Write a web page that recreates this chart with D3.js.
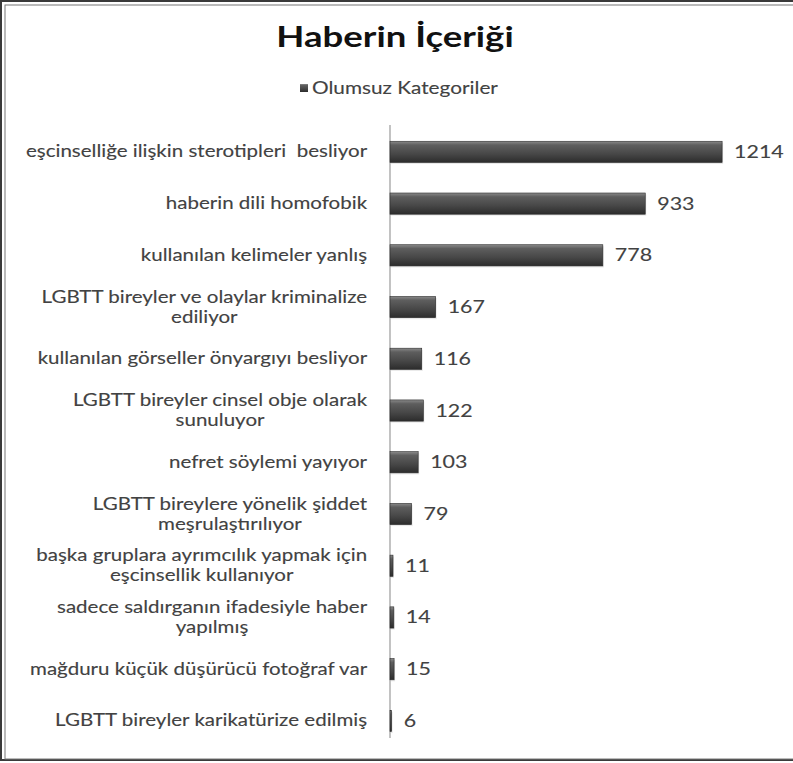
<!DOCTYPE html>
<html>
<head>
<meta charset="utf-8">
<script src="https://cdn.jsdelivr.net/npm/d3@7"></script>
<style>
  html, body { margin: 0; padding: 0; background: #fff; }
  svg { display: block; font-family: 'Lato', 'Open Sans', sans-serif; }
</style>
</head>
<body>
<div id="chart"></div>
<script>
const categories = [
  'eşcinselliğe ilişkin sterotipleri  besliyor',
  'haberin dili homofobik',
  'kullanılan kelimeler yanlış',
  'LGBTT bireyler ve olaylar kriminalize|ediliyor',
  'kullanılan görseller önyargıyı besliyor',
  'LGBTT bireyler cinsel obje olarak|sunuluyor',
  'nefret söylemi yayıyor',
  'LGBTT bireylere yönelik şiddet|meşrulaştırılıyor',
  'başka gruplara ayrımcılık yapmak için|eşcinsellik kullanıyor',
  'sadece saldırganın ifadesiyle haber|yapılmış',
  'mağduru küçük düşürücü fotoğraf var',
  'LGBTT bireyler karikatürize edilmiş'
];
const values = [1214, 933, 778, 167, 116, 122, 103, 79, 11, 14, 15, 6];
const seriesName = 'Olumsuz Kategoriler';
const title = 'Haberin İçeriği';

const W = 793, H = 763;
const stretch = 1.26; // the source picture is widened horizontally
const color = {
  text: '#424242',
  axis: '#9a9a9a',
  frame: '#3a3a3a'
};

const svg = d3.select('#chart')
  .append('svg')
  .attr('width', W)
  .attr('height', H);

// text that is stretched sideways like in the scan
const wideText = (parent, px, py, str, size, anchor) => parent.append('text')
  .attr('transform', `translate(${px}, ${py}) scale(${stretch}, 1)`)
  .attr('text-anchor', anchor || 'start')
  .attr('font-size', size)
  .attr('fill', color.text)
  .attr('stroke', color.text)
  .attr('stroke-width', 0.12)
  .attr('xml:space', 'preserve')
  .text(str);

// bar gradient, looks like the bevelled excel bars
const defs = svg.append('defs');
const grad = defs.append('linearGradient')
  .attr('id', 'barGrad')
  .attr('x1', 0).attr('y1', 0).attr('x2', 0).attr('y2', 1);
grad.append('stop').attr('offset', '0%').attr('stop-color', '#8a8a8a');
grad.append('stop').attr('offset', '18%').attr('stop-color', '#5e5e5e');
grad.append('stop').attr('offset', '60%').attr('stop-color', '#474747');
grad.append('stop').attr('offset', '100%').attr('stop-color', '#2c2c2c');

// frame (right edge is cut off in the original)
svg.append('rect')
  .attr('x', 1).attr('y', 1)
  .attr('width', W + 10).attr('height', H - 4)
  .attr('fill', 'none')
  .attr('stroke', color.frame)
  .attr('stroke-width', 2);
svg.append('rect')
  .attr('x', 5).attr('y', 5)
  .attr('width', W + 10).attr('height', H - 9)
  .attr('fill', 'none')
  .attr('stroke', '#777')
  .attr('stroke-width', 1);

// title + legend
wideText(svg, 395, 47, title, 29, 'middle')
  .attr('font-weight', 700)
  .attr('fill', '#111')
  .attr('stroke', 'none');

const legend = svg.append('g').attr('transform', 'translate(300, 88)');
legend.append('rect')
  .attr('x', 0).attr('y', -4)
  .attr('width', 8).attr('height', 8)
  .attr('fill', 'url(#barGrad)');
wideText(legend, 12, 5.5, seriesName, 16.5);

// scales
const x = d3.scaleLinear()
  .domain([0, 1400])
  .range([390, 390 + 383]);

const y = d3.scaleBand()
  .domain(categories)
  .range([126, 746.8])
  .paddingInner(0.59)
  .paddingOuter(0.295);

// category axis line
svg.append('line')
  .attr('x1', x(0)).attr('x2', x(0))
  .attr('y1', 125).attr('y2', 738)
  .attr('stroke', color.axis)
  .attr('stroke-width', 1.2);

// bars
const bars = svg.selectAll('.bar')
  .data(categories)
  .enter()
  .append('g')
  .attr('class', 'bar');

bars.append('rect')
  .attr('x', x(0) + 1)
  .attr('y', (d) => y(d) + 1.5)
  .attr('width', (d, i) => Math.max(0, x(values[i]) - x(0)))
  .attr('height', y.bandwidth())
  .attr('fill', '#d8d8d8')
  .attr('opacity', 0.6);

bars.append('rect')
  .attr('x', x(0))
  .attr('y', (d) => y(d))
  .attr('width', (d, i) => x(values[i]) - x(0))
  .attr('height', y.bandwidth())
  .attr('fill', 'url(#barGrad)')
  .attr('stroke', '#2a2a2a')
  .attr('stroke-width', 0.6);

// value labels
categories.forEach((c, i) => {
  wideText(svg, x(values[i]) + 12, y(c) + y.bandwidth() / 2 + 6, String(values[i]), 17);
});

// category labels, wrapped lines centred as a block, block right aligned
const labelRight = 367;
const lineH = 20;
categories.forEach((c) => {
  const lines = c.split('|');
  const g = svg.append('g');
  const cy = y(c) + y.bandwidth() / 2;
  const probe = lines.map((ln) => {
    const t = g.append('text').attr('font-size', 16.3).attr('xml:space', 'preserve').text(ln);
    const w = t.node().getComputedTextLength() * stretch;
    t.remove();
    return w;
  });
  const maxW = d3.max(probe);
  lines.forEach((ln, k) => {
    wideText(g, labelRight - maxW / 2, cy + 5.5 + (k - (lines.length - 1) / 2) * lineH, ln, 16.3, 'middle');
  });
});
</script>
</body>
</html>
